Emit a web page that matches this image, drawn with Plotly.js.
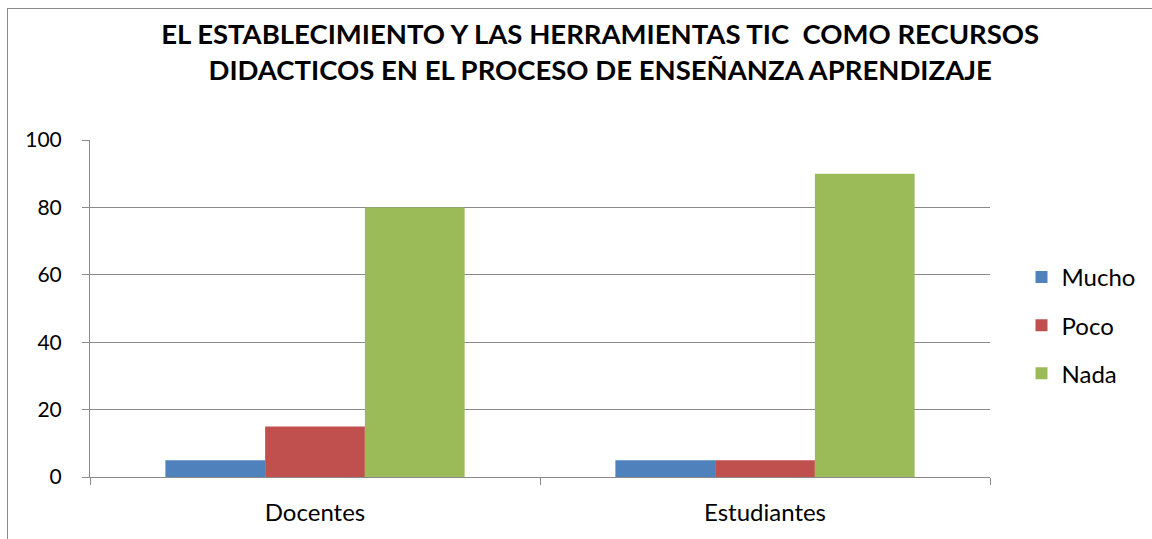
<!DOCTYPE html>
<html><head><meta charset="utf-8">
<script src="https://cdn.plot.ly/plotly-3.0.1.min.js"></script>
<style>
html,body{margin:0;padding:0;overflow:hidden;background:#fff;}
#chart{position:absolute;left:0;top:0;width:1152px;height:539px;}
#frame{position:absolute;left:7px;top:8px;width:1300px;height:700px;border:1px solid #8a8a8a;pointer-events:none;}
</style></head>
<body>
<div id="chart"></div>
<div id="frame"></div>
<script>
const categories = ["Docentes", "Estudiantes"];
const seriesNames = ["Mucho", "Poco", "Nada"];
const mucho = [5, 5];
const poco = [15, 5];
const nada = [80, 90];
const colors = ["#4F81BD", "#C0504D", "#9BBB59"];
const yTicks = [0, 20, 40, 60, 80, 100];

const seriesValues = [mucho, poco, nada];
const font = "Lato, 'Open Sans', sans-serif";
const traces = seriesNames.map((n, i) => ({
  type: "bar", name: n, x: categories, y: seriesValues[i],
  marker: {color: colors[i], line: {width: 0}},
  legendgroup: "g" + i, hoverinfo: "skip"
}));

const layout = {
  width: 1152, height: 539,
  margin: {l: 90, r: 159, t: 140, b: 62},
  paper_bgcolor: "#ffffff", plot_bgcolor: "#ffffff",
  barmode: "group", bargap: 0.335, bargroupgap: 0,
  font: {family: font, color: "#000000", size: 24},
  title: {
    text: "<b>EL ESTABLECIMIENTO Y LAS HERRAMIENTAS TIC  COMO RECURSOS<br>DIDACTICOS EN EL PROCESO DE ENSEÑANZA APRENDIZAJE</b>",
    font: {family: font, size: 27.5, color: "#000000"},
    x: 0.521, xref: "container", xanchor: "center",
    y: 0.918, yref: "container", yanchor: "middle"
  },
  xaxis: {
    type: "category", tickson: "boundaries", ticks: "outside", ticklen: 7,
    tickcolor: "#8a8a8a", showline: true, linecolor: "#8a8a8a", linewidth: 1,
    showgrid: false, tickfont: {size: 24}, ticklabelstandoff: 14, fixedrange: true
  },
  yaxis: {
    range: [0, 100], tickvals: yTicks, ticks: "outside", ticklen: 7,
    tickcolor: "#8a8a8a", showline: true, linecolor: "#8a8a8a", linewidth: 1,
    showgrid: true, gridcolor: "#8a8a8a", gridwidth: 1, zeroline: false,
    tickfont: {size: 21}, ticklabelstandoff: 16, fixedrange: true
  },
  legend: {
    x: 1.035, xanchor: "left", xref: "paper", y: 0.45, yanchor: "middle",
    font: {size: 24}, traceorder: "grouped", tracegroupgap: 14,
    bgcolor: "rgba(0,0,0,0)", itemwidth: 30
  },
  showlegend: true
};
Plotly.newPlot("chart", traces, layout, {displayModeBar: false, staticPlot: true});
</script>
</body></html>
